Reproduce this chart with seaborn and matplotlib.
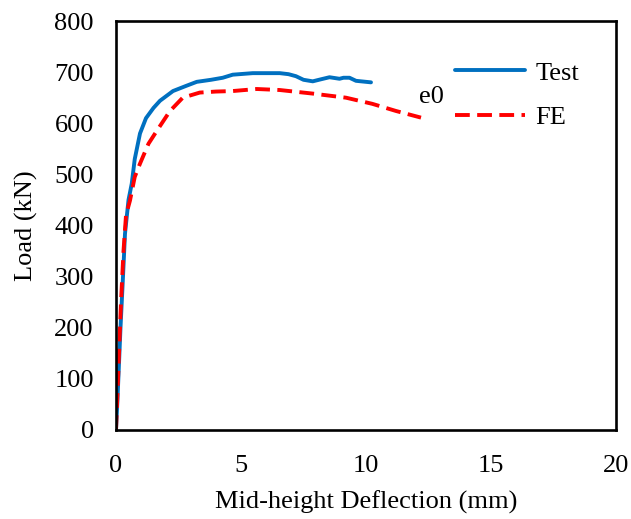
import matplotlib
matplotlib.use("Agg")
import matplotlib.pyplot as plt
import seaborn as sns
import pandas as pd

test_x = [0, 0.05, 0.12, 0.18, 0.28, 0.36, 0.5, 0.63, 0.75, 0.96, 1.2, 1.5, 1.76, 2.28, 2.8, 3.23,
          3.8, 4.27, 4.67, 5.47, 6.55, 6.9, 7.2, 7.5, 7.87, 8.2, 8.54, 8.94, 9.1, 9.34, 9.6, 10.2]
test_y = [0, 50, 130, 200, 300, 384, 450, 482, 530, 580, 610, 630, 644, 663, 673, 681,
          685, 689, 695, 698, 698, 696, 692, 685, 682, 686, 690, 687, 689, 689, 683, 680]

fe_x = [0, 0.05, 0.12, 0.2, 0.3, 0.4, 0.56, 0.75, 0.96, 1.3, 1.63, 2.16, 2.67, 3.35, 4.0, 4.67,
        5.63, 6.55, 7.87, 9.2, 10.25, 11.2, 12.2]
fe_y = [0, 60, 150, 250, 350, 420, 449, 495, 521, 560, 585, 624, 650, 660, 662, 663,
        667, 665, 658, 650, 638, 624, 611]

xticks = [0, 5, 10, 15, 20]
yticks = [0, 100, 200, 300, 400, 500, 600, 700, 800]

sns.set_theme(style="white")
plt.rcParams['font.family'] = ['Liberation Serif', 'DejaVu Serif']
plt.rcParams['text.color'] = 'black'
plt.rcParams['axes.labelcolor'] = 'black'
plt.rcParams['xtick.color'] = 'black'
plt.rcParams['ytick.color'] = 'black'

FS = 19

fig = plt.figure(figsize=(6.31, 5.19), dpi=100)
ax = fig.add_axes([116/631, 89/519, 500/631, 409/519])

df_t = pd.DataFrame({"x": test_x, "y": test_y})
df_f = pd.DataFrame({"x": fe_x, "y": fe_y})
sns.lineplot(data=df_t, x="x", y="y", ax=ax, sort=False, estimator=None,
             color="#0070C0", linewidth=2.8, label="Test")
sns.lineplot(data=df_f, x="x", y="y", ax=ax, sort=False, estimator=None,
             color="#FF0000", linewidth=2.8, label="FE", dashes=False)
ax.lines[1].set_linestyle((0, (3.8, 1.9)))

ax.set_xlim(0, 20)
ax.set_ylim(0, 800)
ax.set_xticks(xticks)
ax.set_yticks(yticks)
ax.tick_params(direction="in", length=5, width=1.6, colors="black", labelsize=FS)
ax.tick_params(axis="y", pad=16)
ax.tick_params(axis="x", pad=18)
for s in ax.spines.values():
    s.set_color("black")
    s.set_linewidth(1.9)

ax.set_xlabel("Mid-height Deflection (mm)", fontsize=FS, labelpad=10, color="black")
ax.set_ylabel("Load (kN)", fontsize=FS, labelpad=12, color="black")

ax.text(12.1, 640, "e0", fontsize=FS, color="black")

leg = ax.legend(loc="upper left", bbox_to_anchor=(0.63, 0.96), frameon=False,
                fontsize=FS, handlelength=2.65, labelspacing=0.8, handletextpad=0.4,
                labelcolor="black")

fig.savefig("out.png", dpi=100)
